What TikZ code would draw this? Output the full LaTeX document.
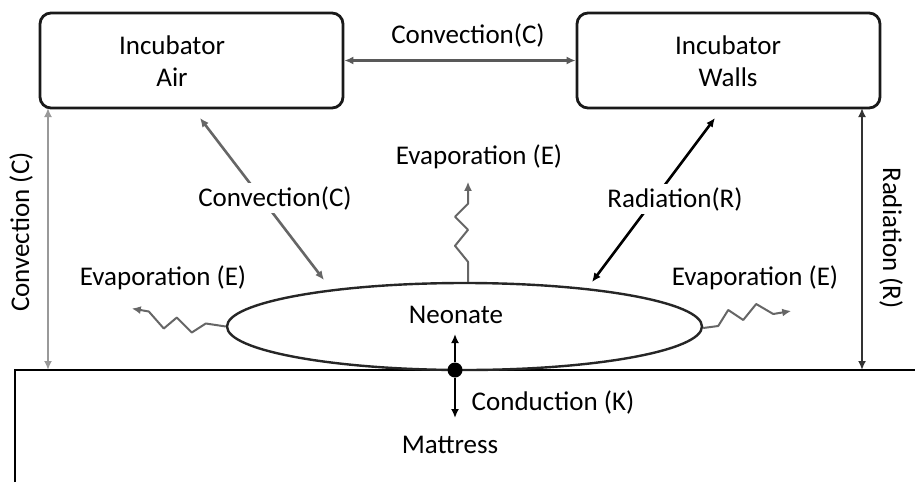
\documentclass[tikz,border=0pt]{standalone}
\usepackage{fontspec}
\setmainfont{Carlito}
\usetikzlibrary{arrows.meta,shapes.geometric}
\begin{document}
\begin{tikzpicture}[x=1pt,y=-1pt,
  every node/.style={font=\fontsize{27}{32}\selectfont, text=black},
  box/.style={draw=black!90, line width=2.8pt, rounded corners=11pt, minimum width=303pt, minimum height=95pt, inner sep=0pt},
  txt/.style={inner sep=0pt, align=center},
  lbl/.style={fill=white, inner sep=3pt},
  tip/.style={-{Latex[length=9pt,width=8pt]}},
  bitip/.style={{Latex[length=9pt,width=8pt]}-{Latex[length=9pt,width=8pt]}},
  flow/.style={line width=2.6pt},
  wave/.style={line width=2pt, draw=black!60, line join=bevel}]
\useasboundingbox (0,0) rectangle (915,482);

% enclosure
\node[box] (air) at (191.5,60.5) {};
\node[box] (walls) at (728.5,60.5) {};
\node[txt] (airtxt) at (172,61) {Incubator\\Air};
\node[txt] (wallstxt) at (728,61) {Incubator\\Walls};

% mattress surface
\coordinate (m0) at (15,482);
\coordinate (m1) at (15,370);
\coordinate (m2) at (915,370);
\draw[line width=2.8pt, draw=black] (m0) -- (m1) -- (m2);

% neonate
\node[ellipse, draw=black!85, line width=2.4pt, minimum width=475pt, minimum height=87pt, inner sep=0pt] (neo) at (464.5,326.5) {};
\node[txt] (neotxt) at (456,315) {Neonate};

% air <-> walls
\draw[bitip, flow, draw=black!65] (air.east) -- (walls.west);
\node[txt] (topc) at (468,35) {Convection(C)};

% vertical exchanges with the mattress
\coordinate (lv0) at (48,108);
\coordinate (lv1) at (48,370);
\draw[bitip, flow, draw=black!40] (lv0) -- (lv1);
\node[txt, rotate=90] (leftc) at (21,232) {Convection (C)};
\coordinate (rv0) at (862,108);
\coordinate (rv1) at (862,370);
\draw[bitip, flow, draw=black!80] (rv0) -- (rv1);
\node[txt, rotate=-90] (rightr) at (891,238) {Radiation (R)};

% diagonal exchanges with the neonate
\coordinate (ca) at (200,118);
\coordinate (cb) at (324,280);
\draw[bitip, flow, draw=black!60] (ca) -- (cb);
\node[lbl] (diagc) at (275,198) {Convection(C)};
\coordinate (ra) at (715,118);
\coordinate (rb) at (592,282);
\draw[bitip, flow, draw=black] (ra) -- (rb);
\node[lbl] (diagr) at (675,199) {Radiation(R)};

% evaporation
\draw[wave, tip] (neo.north) ++(3.5,0) -- ++(0,-20) -- ++(-13,-16) -- ++(13,-16) -- ++(-13,-13) -- ++(13,-13) -- ++(0,-22);
\node[txt] (evtop) at (479,157) {Evaporation (E)};
\draw[wave, tip] (neo.west) -- ++(-20,-3) -- ++(-14,9) -- ++(-15,-15) -- ++(-13,11) -- ++(-15,-17) -- ++(-17,-3);
\node[txt] (evl) at (163,278) {Evaporation (E)};
\draw[wave, tip] (neo.east) ++(0,1.5) -- ++(15,-2) -- ++(10,-16) -- ++(15,10) -- ++(13,-16) -- ++(17,10) -- ++(18,-3);
\node[txt] (evr) at (755,278) {Evaporation (E)};

% conduction
\node[circle, fill=black, minimum size=15pt, inner sep=0pt] (dot) at (455,370) {};
\coordinate (cu) at (455,334);
\coordinate (cd) at (455,418);
\draw[tip, line width=2.6pt] (dot) -- (cu);
\draw[tip, line width=2.6pt] (dot) -- (cd);
\node[txt] (cond) at (553,402) {Conduction (K)};
\node[txt] (matt) at (450,445) {Mattress};
\end{tikzpicture}
\end{document}
